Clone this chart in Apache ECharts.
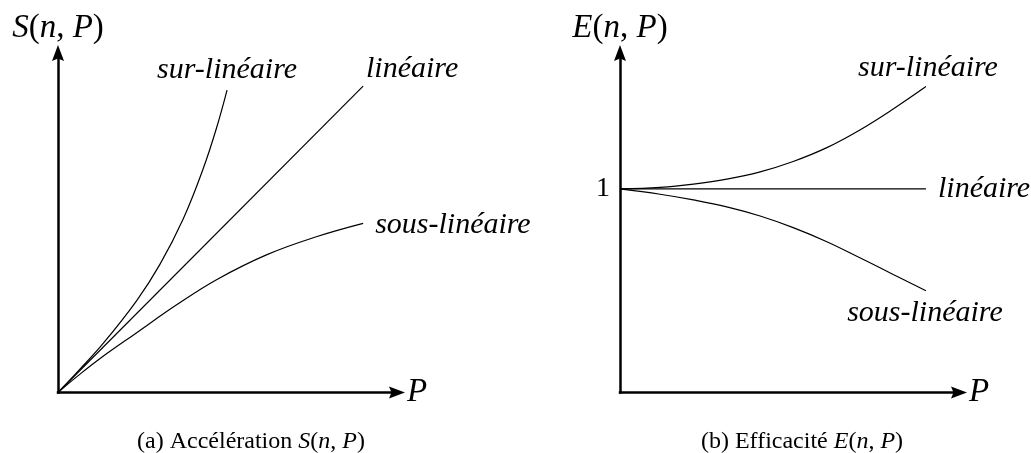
<!DOCTYPE html>
<html>
<head>
<meta charset="utf-8">
<script src="https://cdn.jsdelivr.net/npm/echarts@6/dist/echarts.min.js"></script>
<style>
  html, body { margin: 0; padding: 0; background: #fff; }
  #chart { width: 1031px; height: 453px; }
</style>
</head>
<body>
<div id="chart"></div>
<script>
// Speedup S(n, P) as a function of P: [P, S]
const speedupLinear = [[0, 0], [10, 10]];
const speedupSuper = [[0, 0], [0.69, 0.73], [1.48, 1.60], [2.58, 3.00], [3.34, 4.18],
                      [4.11, 5.68], [4.76, 7.31], [5.20, 8.65], [5.54, 9.87]];
const speedupSub = [[0, 0], [0.66, 0.55], [1.38, 1.11], [2.59, 1.96], [3.90, 2.87],
                    [5.21, 3.69], [6.85, 4.50], [8.49, 5.09], [10, 5.52]];

// Efficiency E(n, P) = S / P, sampled at the same P values
const effP = [0, 1.31, 2.40, 3.49, 4.58, 5.66, 6.76, 7.84, 8.93, 10];
const effSuper = [1, 1.008, 1.024, 1.048, 1.084, 1.135, 1.203, 1.290, 1.393, 1.503];
const effSub = [1, 0.974, 0.946, 0.912, 0.867, 0.810, 0.741, 0.662, 0.580, 0.500];
const effLinearP = [0, 10];
const effLinear = [1, 1];

// Tick labels on the efficiency axis
const effTicks = [1];

// Curve names
const names = { sup: 'sur-linéaire', lin: 'linéaire', sub: 'sous-linéaire' };

const SERIF = '"Liberation Serif", "DejaVu Serif", serif';
const mathRich = {
  i: { fontFamily: SERIF, fontStyle: 'italic', fontWeight: 'normal', fontSize: 33, color: '#000' },
  r: { fontFamily: SERIF, fontStyle: 'normal', fontWeight: 'normal', fontSize: 33, color: '#000' }
};
const capRich = {
  i: { fontFamily: SERIF, fontStyle: 'italic', fontWeight: 'normal', fontSize: 24, color: '#000' },
  r: { fontFamily: SERIF, fontStyle: 'normal', fontWeight: 'normal', fontSize: 24, color: '#000' }
};
const curveFont = { fontFamily: SERIF, fontStyle: 'italic', fontWeight: 'normal', fontSize: 30, color: '#000' };

function withEndLabel(points, text, labelOpt) {
  return points.map((p, k) => k === points.length - 1
    ? { value: p, label: Object.assign({ show: true, formatter: text }, curveFont, labelOpt) }
    : { value: p });
}
function zip(xs, ys) { return xs.map((x, k) => [x, ys[k]]); }

// Filled arrowhead with a shallow notch at the back
const arrowHead = 'path://M6,0 L12,16 L6,13.5 L0,16 Z';
const axisLine = {
  show: true,
  symbol: ['none', arrowHead],
  symbolSize: [12, 16],
  lineStyle: { color: '#000', width: 2.5, cap: 'square' }
};
const bare = { axisTick: { show: false }, splitLine: { show: false } };

function curve(name, xi, data) {
  return {
    name, type: 'line', xAxisIndex: xi, yAxisIndex: xi,
    data, smooth: 0.4, showSymbol: true, symbol: 'circle', symbolSize: 0,
    lineStyle: { color: '#000', width: 1.2 }, itemStyle: { color: '#000' },
    label: { show: false }, silent: true
  };
}

const option = {
  animation: false,
  backgroundColor: '#fff',
  title: [
    { text: '{r|(a) Accélération }{i|S}{r|(}{i|n}{r|, }{i|P}{r|)}',
      left: 246, top: 425, textAlign: 'center', textStyle: { rich: capRich } },
    { text: '{r|(b) Efficacité }{i|E}{r|(}{i|n}{r|, }{i|P}{r|)}',
      left: 797, top: 425, textAlign: 'center', textStyle: { rich: capRich } }
  ],
  grid: [
    { left: 58, top: 53, width: 339, height: 339.5 },
    { left: 620, top: 53, width: 339, height: 339.5 }
  ],
  xAxis: [
    Object.assign({ type: 'value', gridIndex: 0, min: 0, max: 11.11, axisLine,
      axisLabel: { show: false }, name: '{i|P}', nameLocation: 'end', nameGap: 10,
      nameTextStyle: { rich: mathRich } }, bare),
    Object.assign({ type: 'value', gridIndex: 1, min: 0, max: 11.08, axisLine,
      axisLabel: { show: false }, name: '{i|P}', nameLocation: 'end', nameGap: 10,
      nameTextStyle: { rich: mathRich } }, bare)
  ],
  yAxis: [
    Object.assign({ type: 'value', gridIndex: 0, min: 0, max: 11.08, axisLine,
      axisLabel: { show: false },
      name: '{i|S}{r|(}{i|n}{r|, }{i|P}{r|)}', nameLocation: 'end', nameGap: 8,
      nameTextStyle: { rich: mathRich } }, bare),
    Object.assign({ type: 'value', gridIndex: 1, min: 0, max: 1.668, interval: 1, axisLine,
      axisLabel: { show: true, margin: 10, fontFamily: SERIF, fontSize: 28, color: '#000',
        formatter: v => effTicks.includes(v) ? String(v) : '' },
      showMinLabel: false, showMaxLabel: false,
      name: '{i|E}{r|(}{i|n}{r|, }{i|P}{r|)}', nameLocation: 'end', nameGap: 8,
      nameTextStyle: { rich: mathRich } }, bare)
  ],
  series: [
    curve(names.sup, 0, withEndLabel(speedupSuper, names.sup, { position: 'top', distance: 5 })),
    curve(names.lin, 0, withEndLabel(speedupLinear, names.lin, { position: 'top', distance: 2, offset: [49, 0] })),
    curve(names.sub, 0, withEndLabel(speedupSub, names.sub, { position: 'right', distance: 12, offset: [0, 2] })),
    curve(names.sup, 1, withEndLabel(zip(effP, effSuper), names.sup, { position: 'top', distance: 3, offset: [2, 0] })),
    curve(names.lin, 1, withEndLabel(zip(effLinearP, effLinear), names.lin, { position: 'right', distance: 12, offset: [0, 0] })),
    curve(names.sub, 1, withEndLabel(zip(effP, effSub), names.sub, { position: 'bottom', distance: 7, offset: [-1, 0] }))
  ]
};

const chart = echarts.init(document.getElementById('chart'), null, { renderer: 'canvas' });
chart.setOption(option);
</script>
</body>
</html>
